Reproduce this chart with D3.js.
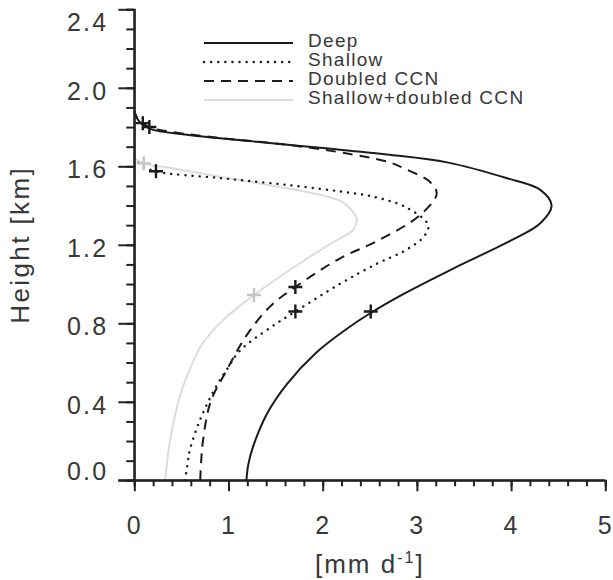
<!DOCTYPE html>
<html>
<head>
<meta charset="utf-8">
<script src="https://cdn.jsdelivr.net/npm/d3@7"></script>
<style>
  body { margin: 0; background: #fff; }
  svg text { font-family: "Liberation Sans", Arial, sans-serif; fill: #383838; }
</style>
</head>
<body>
<div id="chart"></div>
<script>
// profiles: [rate (mm/d), height (km)], bottom to top
const deep = [
  [1.19, 0.0], [1.21, 0.08], [1.26, 0.17], [1.41, 0.34], [1.62, 0.49], [1.93, 0.65],
  [2.25, 0.77], [2.50, 0.85], [2.86, 0.95], [3.39, 1.08], [3.99, 1.22], [4.31, 1.31],
  [4.43, 1.40], [4.31, 1.48], [3.95, 1.54], [3.32, 1.62], [2.68, 1.66], [1.97, 1.694],
  [1.26, 1.727], [0.56, 1.761], [0.17, 1.791], [0.05, 1.83], [0.0, 1.88]
];
const shallow = [
  [0.54, 0.0], [0.57, 0.1], [0.59, 0.155], [0.70, 0.31], [0.87, 0.48], [0.99, 0.57],
  [1.12, 0.66], [1.45, 0.78], [1.71, 0.86], [2.18, 1.0], [2.56, 1.10], [2.87, 1.17],
  [3.07, 1.24], [3.12, 1.30], [2.89, 1.39], [2.54, 1.445], [2.32, 1.463], [1.62, 1.505],
  [0.91, 1.54], [0.22, 1.575], [0.06, 1.61], [0.0, 1.64]
];
const doubled = [
  [0.70, 0.0], [0.71, 0.1], [0.73, 0.205], [0.81, 0.4], [0.98, 0.56], [1.18, 0.73],
  [1.44, 0.885], [1.71, 0.985], [2.18, 1.13], [2.58, 1.22], [3.03, 1.35], [3.21, 1.46],
  [3.14, 1.52], [2.86, 1.59], [2.71, 1.62], [2.32, 1.66], [1.62, 1.71], [0.9, 1.745],
  [0.4, 1.775], [0.16, 1.80], [0.04, 1.84], [0.0, 1.88]
];
const shallowDoubled = [
  [0.33, 0.0], [0.35, 0.1], [0.38, 0.205], [0.485, 0.43], [0.62, 0.6], [0.73, 0.7],
  [0.95, 0.82], [1.27, 0.944], [1.77, 1.11], [2.10, 1.21], [2.33, 1.28], [2.36, 1.335],
  [2.30, 1.38], [2.20, 1.42], [1.97, 1.455], [1.6, 1.49], [0.91, 1.547], [0.4, 1.59],
  [0.10, 1.615], [0.0, 1.64]
];

// "+" markers on each profile
const deepMarks = [[0.09, 1.82], [2.51, 0.86]];
const shallowMarks = [[0.23, 1.575], [1.71, 0.86]];
const doubledMarks = [[0.16, 1.80], [1.71, 0.985]];
const shallowDoubledMarks = [[0.10, 1.615], [1.27, 0.944]];

const seriesNames = ['Deep', 'Shallow', 'Doubled CCN', 'Shallow+doubled CCN'];
const xTicks = [0, 1, 2, 3, 4, 5];
const yTicks = [0.0, 0.4, 0.8, 1.2, 1.6, 2.0, 2.4];

const width = 613, height = 580;
const margin = { left: 134.3, right: 7.7, top: 9.3, bottom: 99.7 };

const svg = d3.select('#chart').append('svg')
  .attr('width', width)
  .attr('height', height);

const x = d3.scaleLinear().domain([0, 5]).range([margin.left, width - margin.right]);
const y = d3.scaleLinear().domain([0, 2.4]).range([height - margin.bottom, margin.top]);

const series = [
  { name: seriesNames[0], data: deep, marks: deepMarks, color: '#1a1a1a', dash: null, width: 2 },
  { name: seriesNames[1], data: shallow, marks: shallowMarks, color: '#1a1a1a', dash: '0.1 7', width: 2.4, cap: 'round' },
  { name: seriesNames[2], data: doubled, marks: doubledMarks, color: '#1a1a1a', dash: '10 7', width: 2 },
  { name: seriesNames[3], data: shallowDoubled, marks: shallowDoubledMarks, color: '#dcdcdc', dash: null, width: 2, markColor: '#c4c4c4' }
];

const line = d3.line()
  .x(d => x(d[0]))
  .y(d => y(d[1]))
  .curve(d3.curveCatmullRom.alpha(0.5));

// draw light line first so black ones sit on top
const order = [3, 0, 2, 1];
order.forEach(i => {
  const s = series[i];
  svg.append('path')
    .datum(s.data)
    .attr('d', line)
    .attr('fill', 'none')
    .attr('stroke', s.color)
    .attr('stroke-width', s.width)
    .attr('stroke-linecap', s.cap || 'butt')
    .attr('stroke-dasharray', s.dash);
});

order.forEach(i => {
  const s = series[i];
  svg.append('g').selectAll('path')
    .data(s.marks)
    .enter().append('path')
    .attr('d', d => `M${x(d[0]) - 7},${y(d[1])}h14M${x(d[0])},${y(d[1]) - 7}v14`)
    .attr('stroke', s.markColor || '#1a1a1a')
    .attr('stroke-width', 2.4)
    .attr('fill', 'none');
});

// axes
const axisColor = '#222';

const xMinor = svg.append('g')
  .attr('transform', `translate(0,${y(0)})`)
  .call(d3.axisBottom(x).tickValues(d3.range(0, 5.01, 0.2)).tickSize(6).tickFormat(''));
const xMajor = svg.append('g')
  .attr('transform', `translate(0,${y(0)})`)
  .call(d3.axisBottom(x).tickValues(xTicks).tickSize(11).tickPadding(25).tickFormat(d3.format('d')));

const yMinor = svg.append('g')
  .attr('transform', `translate(${x(0)},0)`)
  .call(d3.axisLeft(y).tickValues(d3.range(0, 2.41, 0.1)).tickSize(8).tickFormat(''));
const yMajor = svg.append('g')
  .attr('transform', `translate(${x(0)},0)`)
  .call(d3.axisLeft(y).tickValues(yTicks).tickSize(16).tickPadding(10).tickFormat(d3.format('.1f')));

[xMinor, xMajor, yMinor, yMajor].forEach(g => {
  g.select('.domain').attr('stroke', axisColor).attr('stroke-width', 2);
  g.selectAll('.tick line').attr('stroke', axisColor).attr('stroke-width', 2);
  g.selectAll('.tick text')
    .attr('fill', '#383838')
    .style('font-family', '"Liberation Sans", Arial, sans-serif')
    .style('font-size', '25px')
    .style('letter-spacing', '2.2px');
});
xMajor.select('.domain').attr('d', `M${x(0) - 16},0H${x(5)}`);
yMajor.select('.domain').attr('d', `M0,${y(0)}V${y(2.4)}`);

// end labels on the y axis sit inside the axis range
yMajor.selectAll('.tick text')
  .attr('dy', d => d === 2.4 ? '0.85em' : d === 0 ? '-0.02em' : '0.45em');

// axis titles
svg.append('text')
  .attr('transform', `translate(29,${y(1.2)}) rotate(-90)`)
  .attr('text-anchor', 'middle')
  .style('font-size', '26px')
  .style('letter-spacing', '2.4px')
  .text('Height [km]');

const xt = svg.append('text')
  .attr('x', x(2.5))
  .attr('y', 573)
  .attr('text-anchor', 'middle')
  .style('font-size', '26px')
  .style('letter-spacing', '2px');
xt.append('tspan').text('[mm d');
xt.append('tspan').attr('dy', -10).style('font-size', '16px').text('-1');
xt.append('tspan').attr('dy', 10).text(']');

// legend
const legend = svg.append('g').attr('transform', 'translate(204,43)');
series.forEach((s, i) => {
  const row = legend.append('g').attr('transform', `translate(0,${i * 19})`);
  row.append('line')
    .attr('x1', 0).attr('x2', 89)
    .attr('stroke', s.color)
    .attr('stroke-width', s.width)
    .attr('stroke-linecap', s.cap || 'butt')
    .attr('stroke-dasharray', s.dash);
  row.append('text')
    .attr('x', 104)
    .attr('dy', '0.23em')
    .style('font-size', '19px')
    .style('letter-spacing', '1.3px')
    .text(s.name);
});
</script>
</body>
</html>
